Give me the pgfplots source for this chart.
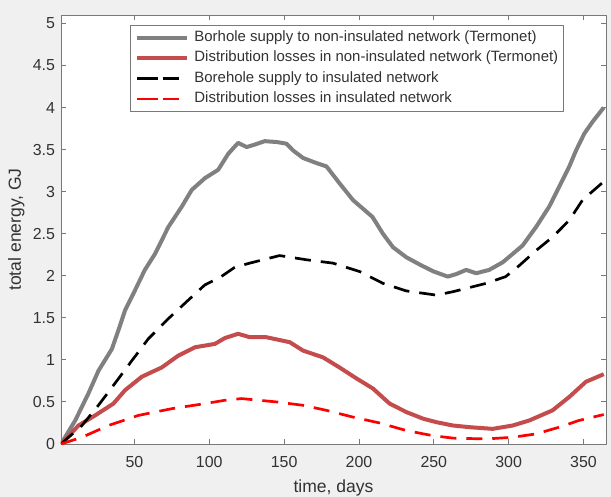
\documentclass[border=0pt]{standalone}
\usepackage{pgfplots}
\pgfplotsset{compat=1.18}
\usepackage{fontspec}
\setmainfont{Liberation Sans}

\definecolor{figbg}{RGB}{240,240,240}
\definecolor{framegray}{RGB}{120,120,120}
\definecolor{txtgray}{RGB}{50,50,50}
\definecolor{supplygray}{RGB}{128,128,128}
\definecolor{lossred}{RGB}{196,76,76}

\pgfplotsset{
  dashleg/.style={legend image code/.code={
    \draw[##1, solid] (5bp,0bp) -- (21bp,0bp);
    \draw[##1, solid] (27bp,0bp) -- (40bp,0bp);
    \path (0bp,0bp) -- (50bp,0bp);}},
}

\begin{document}
\begin{tikzpicture}
  % figure background and fixed page size
  \fill[figbg] (-61bp,-53bp) rectangle (550bp,444bp);
  \useasboundingbox (-61bp,-53bp) rectangle (550bp,444bp);
  \begin{axis}[
    at={(0,0)}, anchor=south west,
    scale only axis, width=545bp, height=429bp,
    xmin=1, xmax=365, ymin=0, ymax=5.1,
    xtick={50,100,...,350},
    ytick={0,0.5,...,5},
    yticklabels={0,0.5,1,1.5,2,2.5,3,3.5,4,4.5,5},
    tick align=inside,
    major tick length=5bp,
    axis background/.style={fill=white},
    axis line style={draw=framegray, line width=0.9bp},
    tick style={draw=framegray, line width=0.9bp},
    /pgf/number format/assume math mode=true,
    tick label style={font=\fontsize{16}{18}\selectfont, text=txtgray},
    xticklabel style={yshift=-8.5bp},
    yticklabel style={xshift=-2.5bp},
    label style={font=\fontsize{17.6}{20}\selectfont, text=txtgray},
    xlabel={time, days},
    ylabel={total energy, GJ},
    xlabel style={at={(axis description cs:0.5,-0.1119)}, anchor=base},
    ylabel style={at={(axis description cs:-0.0734,0.5)}, anchor=base},
    legend cell align=left,
    legend style={
      at={(0.1266,0.9767)}, anchor=north west,
      draw=framegray, line width=0.9bp, fill=white,
      font=\fontsize{15}{17}\selectfont, text=txtgray,
      inner xsep=5bp, inner ysep=5.5bp, row sep=6.9bp, column sep=5bp,
      nodes={inner sep=0pt, text height=10.5bp, text depth=3bp},
    },
    legend image code/.code={\draw[#1] (0bp,0bp) -- (50bp,0bp);},
    line join=round,
  ]
    % Borehole supply, non-insulated network
    \addplot[supplygray, line width=4bp] coordinates {
      (1,0.00) (10.5,0.28) (19.3,0.60) (26,0.87) (35,1.13) (39.3,1.35)
      (43.8,1.59) (50.5,1.83) (57,2.07) (63.8,2.26) (72.7,2.58) (81.6,2.82)
      (88.3,3.02) (97.1,3.16) (106,3.26) (112.7,3.45) (119.3,3.58) (125,3.53)
      (130.5,3.56) (137,3.60) (145,3.59) (151.6,3.57) (156,3.49) (162.7,3.40)
      (171.6,3.34) (178.3,3.30) (187,3.10) (196,2.90) (209,2.70) (216,2.50)
      (222.7,2.34) (231.6,2.22) (242,2.12) (250,2.05) (259.3,1.99) (265,2.02)
      (271.6,2.07) (278.3,2.03) (287,2.07) (296,2.16) (302.7,2.26) (309.3,2.36)
      (318.3,2.58) (327,2.82) (333.8,3.06) (340.5,3.30) (345,3.49) (350.5,3.69)
      (356,3.83) (363.5,4.00)
    };
    \addlegendentry{Borhole supply to non-insulated network (Termonet)}
    % Distribution losses, non-insulated network
    \addplot[lossred, line width=4bp] coordinates {
      (1,0.00) (12.7,0.22) (23.8,0.34) (36,0.48) (43.8,0.64) (55,0.80)
      (68.3,0.91) (79.3,1.05) (90.5,1.15) (103.8,1.19) (110.5,1.26) (119.3,1.31)
      (127,1.27) (138,1.27) (153.8,1.21) (162.7,1.11) (176,1.03) (187,0.91)
      (198.3,0.78) (209.3,0.66) (220.5,0.48) (231.6,0.38) (243,0.30) (251.6,0.26)
      (262.7,0.22) (273.8,0.20) (289.3,0.18) (302.7,0.22) (313.8,0.28) (329.3,0.40)
      (340.5,0.56) (351.6,0.74) (363.5,0.83)
    };
    \addlegendentry{Distribution losses in non-insulated network (Termonet)}
    % Borehole supply, insulated network
    \addplot[black, line width=2.7bp, dash pattern=on 16bp off 10bp, dashleg] coordinates {
      (1,0.00) (15,0.22) (26,0.46) (37,0.72) (48.3,0.99) (59.3,1.25)
      (72.7,1.49) (86,1.71) (97,1.89) (108,1.99) (117,2.10) (127,2.15)
      (147,2.24) (165,2.19) (182.7,2.15) (200.5,2.05) (216,1.91) (231.6,1.82)
      (251.6,1.77) (262.7,1.81) (285,1.91) (298,1.99) (307,2.12) (318.3,2.30)
      (329.3,2.46) (340.5,2.66) (349.3,2.90) (363.5,3.12)
    };
    \addlegendentry{Borehole supply to insulated network}
    % Distribution losses, insulated network
    \addplot[red, line width=2.7bp, dash pattern=on 16bp off 10bp, dashleg] coordinates {
      (1,0.00) (15,0.08) (32.7,0.22) (52.7,0.34) (75,0.42) (97,0.48)
      (110.5,0.52) (121.6,0.54) (145,0.50) (162.7,0.46) (178.3,0.40) (196,0.32)
      (213.8,0.25) (231.6,0.16) (249,0.10) (262.7,0.07) (285,0.06) (302.7,0.08)
      (318.3,0.12) (333.8,0.20) (347,0.28) (363.5,0.35)
    };
    \addlegendentry{Distribution losses in insulated network}
  \end{axis}
\end{tikzpicture}
\end{document}
